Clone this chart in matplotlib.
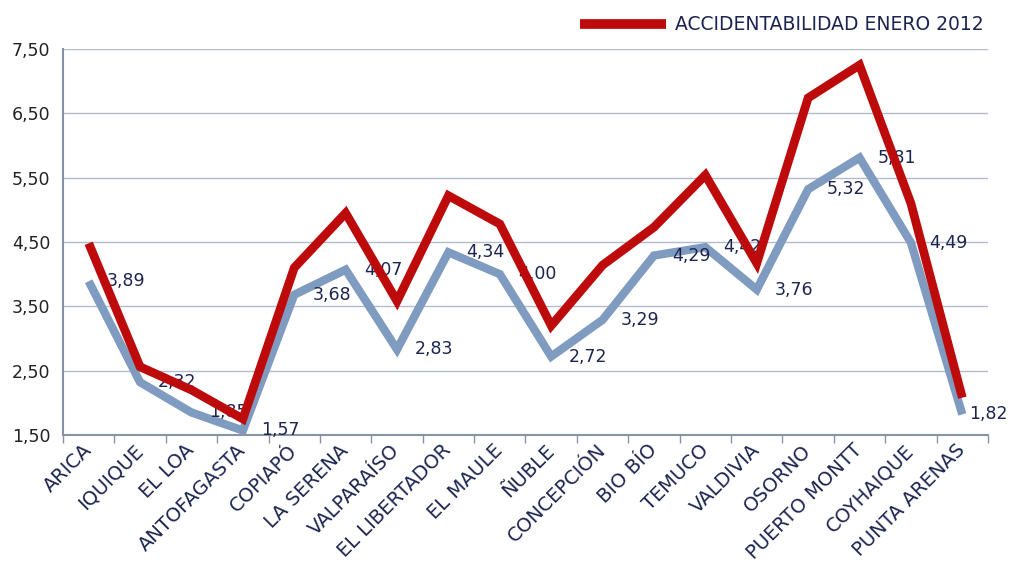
import matplotlib.pyplot as plt
from matplotlib.ticker import FixedLocator
import numpy as np

REGIONES = ["ARICA", "IQUIQUE", "EL LOA", "ANTOFAGASTA", "COPIAPÓ", "LA SERENA",
			"VALPARAÍSO", "EL LIBERTADOR", "EL MAULE", "ÑUBLE", "CONCEPCIÓN", "BIO BÍO",
			"TEMUCO", "VALDIVIA", "OSORNO", "PUERTO MONTT", "COYHAIQUE", "PUNTA ARENAS"]

# linea roja (enero 2012)
enero_2012 = [4.48, 2.56, 2.20, 1.75, 4.10, 4.95, 3.58, 5.22, 4.78, 3.20,
			  4.14, 4.73, 5.54, 4.17, 6.74, 7.25, 5.10, 2.08]

# linea azul con etiquetas
comparativo = [3.89, 2.32, 1.85, 1.57, 3.68, 4.07, 2.83, 4.34, 4.00, 2.72,
			   3.29, 4.29, 4.42, 3.76, 5.32, 5.81, 4.49, 1.82]

Y_TICKS = [1.5, 2.5, 3.5, 4.5, 5.5, 6.5, 7.5]

RED = "#bd0b0b"
BLUE = "#7f9bc0"
NAVY = "#1c2450"

plt.rcParams['font.family'] = ['DejaVu Sans']

fig = plt.figure(figsize=(10.12, 5.63), dpi=100)
ax = fig.add_axes([63/1012, 1-435/563, 925/1012, 386/563])

x = np.arange(len(REGIONES))

ax.plot(x, comparativo, color=BLUE, lw=6, solid_joinstyle='miter', solid_capstyle='butt', zorder=2)
ax.plot(x, enero_2012, color=RED, lw=6.3, solid_joinstyle='miter', solid_capstyle='butt',
		zorder=4, label="ACCIDENTABILIDAD ENERO 2012")

for i, (xi, v) in enumerate(zip(x, comparativo)):
	dx = 5 if i == len(x) - 1 else 13	# last label sits closer to the line end
	ax.annotate("{:.2f}".format(v).replace(".", ","), (xi, v), xytext=(dx, 0),
				textcoords='offset points', ha='left', va='center',
				fontsize=12.5, color=NAVY, zorder=3, annotation_clip=False)

ax.set_xlim(-0.5, len(REGIONES) - 0.5)
ax.set_ylim(1.5, 7.5)
ax.set_yticks(Y_TICKS)
ax.set_yticklabels(["{:.2f}".format(t).replace(".", ",") for t in Y_TICKS])
ax.tick_params(axis='y', length=0, labelsize=12.5, labelcolor="#222222", pad=9)

ax.set_xticks(x)
ax.set_xticklabels(REGIONES, rotation=45, ha='right', va='center', rotation_mode='anchor')
ax.tick_params(axis='x', which='major', length=0, labelsize=14, labelcolor=NAVY, pad=9)
ax.xaxis.set_minor_locator(FixedLocator(np.arange(-0.5, len(REGIONES), 1)))
ax.tick_params(axis='x', which='minor', length=6, width=1, color="#8a93a6", direction='out')

ax.grid(axis='y', color="#b4bccb", lw=1)
ax.set_axisbelow(True)
for s in ['top', 'right']:
	ax.spines[s].set_visible(False)
ax.spines['left'].set_color("#8a93a6")
ax.spines['bottom'].set_color("#8a93a6")
ax.spines['left'].set_linewidth(1.5)
ax.spines['bottom'].set_linewidth(1.5)

leg = ax.legend(loc='center right', bbox_to_anchor=(984/1012, 1-25/563), bbox_transform=fig.transFigure,
				frameon=False, fontsize=13.5, handlelength=4.6, handletextpad=0.5, borderpad=0, borderaxespad=0)
for t in leg.get_texts():
	t.set_color(NAVY)
for h in leg.get_lines():
	h.set_linewidth(7)

plt.savefig("out.png", dpi=100)
